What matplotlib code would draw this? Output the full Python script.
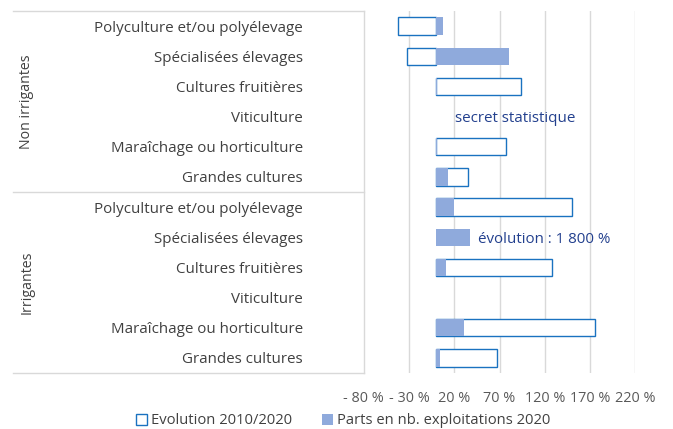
import matplotlib
matplotlib.use("Agg")
import matplotlib.pyplot as plt
from matplotlib.patches import Patch
import numpy as np

plt.rcParams['font.family'] = ['Open Sans', 'DejaVu Sans']

# rows from top to bottom
categories = ['Polyculture et/ou polyélevage', 'Spécialisées élevages', 'Cultures fruitières',
              'Viticulture', 'Maraîchage ou horticulture', 'Grandes cultures']
groups = ['Non irrigantes', 'Irrigantes']

# evolution 2010/2020 (%), None = not shown
evolution = [-42, -32, 94, None, 77, 35,
             150, None, 128, None, 176, 67]
# parts en nb. exploitations 2020 (%)
parts = [7, 80, 1, None, 1, 13,
         20, 37, 11, None, 31, 4]

ticks = [-80, -30, 20, 70, 120, 170, 220]

blue_edge = '#1a72c0'
blue_fill = '#8faadc'
grid_col = '#d9d9d9'
text_col = '#404040'
note_col = '#23408e'

fig = plt.figure(figsize=(6.73, 4.29), dpi=100)
ax = fig.add_axes([363.8 / 673, 1 - 373 / 429, (635.3 - 363.8) / 673, (373 - 11) / 429])

labels = categories * 2
n = len(labels)
y = np.arange(n)
h = 0.57

ev = [0 if v is None else v for v in evolution]
pa = [0 if v is None else v for v in parts]
ev_mask = [v is not None for v in evolution]
pa_mask = [v is not None for v in parts]

for yi, v, m in zip(y, ev, ev_mask):
    if m:
        ax.barh(yi, v, height=h, color='white', edgecolor=blue_edge, linewidth=1.0, zorder=2)
for yi, v, m in zip(y, pa, pa_mask):
    if m:
        ax.barh(yi, v, height=h, color=blue_fill, edgecolor='none', zorder=3)

ax.set_ylim(n - 0.5, -0.5)
ax.set_xlim(ticks[0], ticks[-1])
ax.set_xticks(ticks)
ax.set_xticklabels([('- %d %%' % -t) if t < 0 else ('%d %%' % t) for t in ticks],
                   fontsize=10.4, color='#595959')
ax.tick_params(axis='x', length=0, pad=13)
ax.set_yticks(y)
ax.set_yticklabels(labels, fontsize=10.9, color=text_col)
ax.tick_params(axis='y', length=0, pad=44)

for t in ticks[1:]:
    ax.axvline(t, color=grid_col, linewidth=1.0, zorder=1)

for s in ['top', 'right', 'bottom']:
    ax.spines[s].set_visible(False)
ax.spines['left'].set_color(grid_col)
ax.spines['left'].set_linewidth(1.0)

# category area lines
tr = ax.get_yaxis_transform()
x0 = (13 - 363.8) / (635.3 - 363.8)
for yl in [-0.5, 5.5, 11.5]:
    ax.plot([x0, 0], [yl, yl], color=grid_col, linewidth=1.0, transform=tr, clip_on=False)

# group labels
for gi, g in enumerate(groups):
    ax.text((27 - 363.8) / (635.3 - 363.8), gi * 6 + 2.5, g, transform=tr, rotation=90,
            ha='center', va='center', fontsize=10.2, color=text_col)

ax.text(21, 3, 'secret statistique', fontsize=10.9, color=note_col, va='center_baseline')
ax.text(46, 7, 'évolution : 1 800 %', fontsize=10.9, color=note_col, va='center_baseline')

handles = [Patch(facecolor='white', edgecolor=blue_edge, linewidth=1.0, label='Evolution 2010/2020'),
           Patch(facecolor=blue_fill, edgecolor='none', label='Parts en nb. exploitations 2020')]
leg = fig.legend(handles=handles, loc='center', bbox_to_anchor=(343 / 673, 1 - 421 / 429), ncol=2,
                 frameon=False, fontsize=10.6, handlelength=0.75, handleheight=0.75,
                 handletextpad=0.3, columnspacing=2.0)
for t in leg.get_texts():
    t.set_color(text_col)

fig.savefig('out.png', dpi=100)
